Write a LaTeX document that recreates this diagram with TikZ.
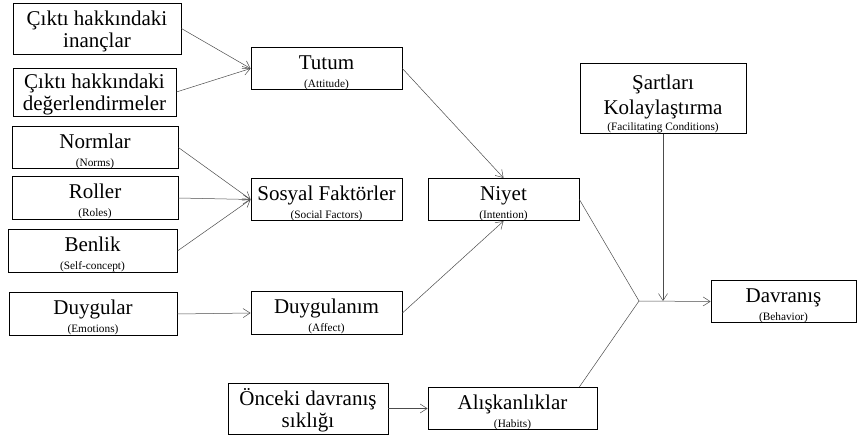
\documentclass[tikz,border=0pt]{standalone}
\usepackage{fontspec}
\setmainfont{Liberation Serif}
\usetikzlibrary{arrows.meta,calc}
\newcommand{\bxt}[2]{\rule{0pt}{22pt}#1\\[-4pt]{\fontsize{11.3}{12}\selectfont #2}}
\tikzset{
  box/.style={draw, line width=0.8pt, inner sep=0pt, align=center,
    font=\fontsize{21}{22}\selectfont},
  conn/.style={draw=black!70, line width=0.5pt},
  arr/.style={conn, -{Straight Barb[length=7pt,width=9pt,line width=0.5pt]}}
}
\begin{document}
\begin{tikzpicture}[x=1pt,y=-1pt]
\useasboundingbox (0,0) rectangle (857,438);
\node[box, minimum width=168pt, minimum height=51pt] (b1) at (97,28.5) {\rule{0pt}{20pt}Çıktı hakkındaki\\inançlar};
\node[box, minimum width=163pt, minimum height=48pt] (b2) at (94.5,92) {\rule{0pt}{20pt}Çıktı hakkındaki\\değerlendirmeler};
\node[box, minimum width=166pt, minimum height=37pt] (norm) at (95,147.5) {\bxt{Normlar}{(Norms)}};
\node[box, minimum width=166pt, minimum height=36pt] (rol) at (95,198) {\bxt{Roller}{(Roles)}};
\node[box, minimum width=169pt, minimum height=38pt] (ben) at (92.5,251) {\bxt{Benlik}{(Self-concept)}};
\node[box, minimum width=168pt, minimum height=40pt] (duy) at (93,314) {\bxt{Duygular}{(Emotions)}};
\node[box, minimum width=151pt, minimum height=41pt] (tut) at (326.5,68.5) {\bxt{Tutum}{(Attitude)}};
\node[box, minimum width=151pt, minimum height=41pt] (sos) at (326.5,199.5) {\bxt{Sosyal Faktörler}{(Social Factors)}};
\node[box, minimum width=151pt, minimum height=40pt] (dgl) at (326.5,313) {\bxt{Duygulanım}{(Affect)}};
\node[box, minimum width=151pt, minimum height=41pt] (niy) at (503.5,199.5) {\bxt{Niyet}{(Intention)}};
\node[box, minimum width=160pt, minimum height=51pt] (onc) at (308,408.5) {\rule{0pt}{20pt}Önceki davranış\\sıklığı};
\node[box, minimum width=169pt, minimum height=39pt] (ali) at (512.5,408.5) {\bxt{Alışkanlıklar}{(Habits)}};
\node[box, minimum width=166pt, minimum height=61pt] (sar) at (663,98.5) {\rule{0pt}{26pt}Şartları\\[3pt]Kolaylaştırma\\[-6pt]{\fontsize{11.3}{12}\selectfont (Facilitating Conditions)}};
\node[box, minimum width=145pt, minimum height=41pt] (dav) at (783.5,301.5) {\bxt{Davranış}{(Behavior)}};
\coordinate (j) at (639,301);
\draw[arr] (b1.east) -- (tut.west);
\draw[arr] (b2.east) -- (tut.west);
\draw[arr] (norm.east) -- (sos.west);
\draw[arr] (rol.east) -- (sos.west);
\draw[arr] (ben.east) -- (sos.west);
\draw[arr] (duy.east) -- (dgl.west);
\draw[arr] (tut.east) -- (niy.north);
\draw[arr] (dgl.east) -- (niy.south);
\draw[arr] (onc.east) -- (ali.west);
\draw[conn] (niy.east) -- (j);
\draw[conn] (ali.north -| niy.east) -- (j);
\draw[arr] (j) -- (dav.west);
\draw[arr] (sar.south) -- (sar.south |- j);
\end{tikzpicture}
\end{document}
